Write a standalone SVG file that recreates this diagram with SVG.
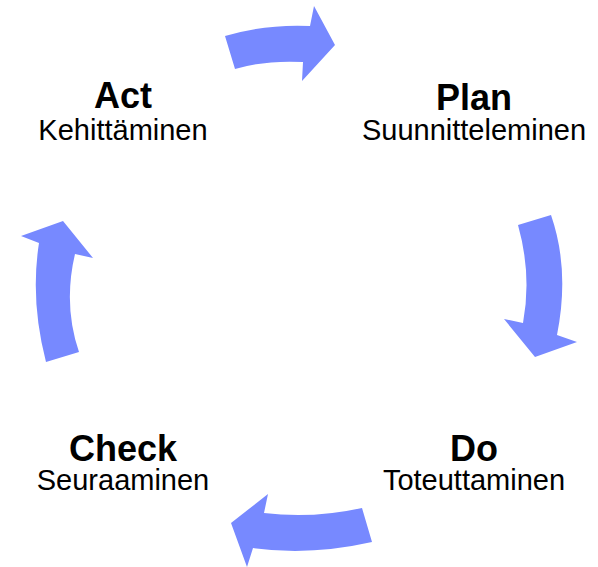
<svg xmlns="http://www.w3.org/2000/svg" width="598" height="567" viewBox="0 0 598 567">
<style>
.arr{fill:#7789ff;stroke:none}
.t{font-family:"Liberation Sans",Arial,sans-serif;font-size:36px;font-weight:bold;fill:#000;text-anchor:middle}
.s{font-family:"Liberation Sans",Arial,sans-serif;font-size:29px;fill:#000;text-anchor:middle}
</style>
<rect width="598" height="567" fill="#fff"/>
<g id="connectors">
<path class="arr" d="M225,36 Q265,24 310,26 L314,6 L335,45 L302,81 L303,62 Q265,60 235,69 Z"/>
<path class="arr" d="M518,225 L551,215 Q570,270 557,335 L577,342 L535,357 L504,319 L523,323 Q532,275 518,225 Z"/>
<path class="arr" d="M362,508 L372,542 Q310,556 253,548 L247,567 L231,523 L268,494 L264,513 Q312,519 362,508 Z"/>
<path class="arr" d="M46,362 L79,352 Q63,305 75,254 L93,258 L63,221 L21,236 L39,243 Q30,300 46,362 Z"/>
</g>
<g id="act"><text class="t" x="123" y="108">Act</text><text class="s" x="123" y="140">Kehittäminen</text></g>
<g id="plan"><text class="t" x="474" y="110">Plan</text><text class="s" x="474" y="140">Suunnitteleminen</text></g>
<g id="do"><text class="t" x="474" y="461">Do</text><text class="s" x="474" y="490">Toteuttaminen</text></g>
<g id="check"><text class="t" x="123" y="461">Check</text><text class="s" x="123" y="490">Seuraaminen</text></g>
</svg>
